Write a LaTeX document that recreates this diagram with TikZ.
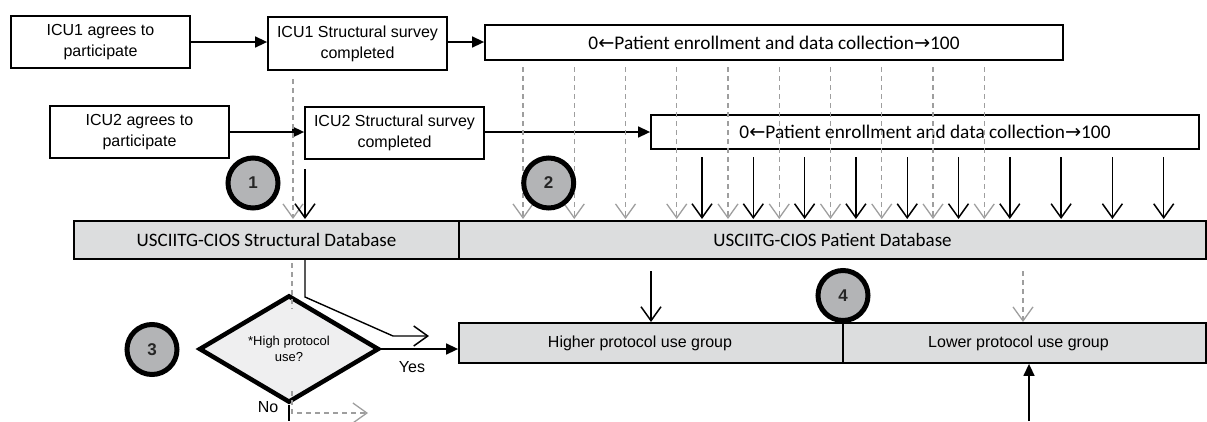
\documentclass[tikz,border=0pt]{standalone}
\usepackage{fontspec}
\setmainfont{Liberation Sans}
\newfontfamily\calfont{Carlito}
\newfontfamily\arrfont{DejaVu Sans}
\usetikzlibrary{arrows.meta,shapes.geometric}
\definecolor{dbfill}{HTML}{DCDDDE}
\definecolor{diafill}{HTML}{EFEFF0}
\definecolor{circfill}{HTML}{B3B4B6}
\definecolor{dashgray}{HTML}{9E9E9E}
\begin{document}
\begin{tikzpicture}[x=1pt,y=-1pt,
  box/.style={draw=black,line width=1.8pt,fill=white,inner sep=0pt,align=center,
    font=\fontsize{16}{23}\selectfont},
  enrbox/.style={draw=black,line width=1.8pt,fill=white,inner sep=0pt,
    font=\calfont\fontsize{19.3}{23}\selectfont},
  dbbox/.style={draw=black,line width=1.8pt,fill=dbfill,inner sep=0pt,
    font=\calfont\fontsize{19}{23}\selectfont},
  grpbox/.style={draw=black,line width=1.8pt,fill=dbfill,inner sep=0pt,
    font=\fontsize{16}{20}\selectfont},
  decision/.style={diamond,draw=black,line width=4.5pt,fill=diafill,inner sep=0pt,
    align=center,font=\fontsize{13}{16}\selectfont},
  numcirc/.style={circle,draw=black,line width=5pt,fill=circfill,inner sep=0pt,
    minimum size=50pt,font=\bfseries\fontsize{17}{17}\selectfont,text=black!85},
  lbl/.style={inner sep=0pt,font=\fontsize{16}{20}\selectfont},
  filledarrow/.style={draw=black,line width=1.5pt,-{Triangle[length=12pt,width=11pt]}},
  openarrow/.style={draw=black,line width=1.4pt,-{Straight Barb[length=14pt,width=20pt,line width=1.5pt]}},
  dasharrow/.style={draw=dashgray,line width=1.2pt,dash pattern=on 5pt off 4pt,
    -{Straight Barb[length=14pt,width=20pt,line width=1.3pt]}},
  dashline/.style={draw=dashgray,line width=1.2pt,dash pattern=on 5pt off 4pt},
  plainline/.style={draw=black,line width=1.5pt}
]
\useasboundingbox (0,0) rectangle (1207,421);

% top boxes
\node[box,minimum width=179pt,minimum height=52pt] (icu1a) at (100.5,42) {\raisebox{-2pt}{\shortstack{ICU1 agrees to\\[3pt]participate}}};
\node[box,minimum width=179pt,minimum height=53pt] (icu1s) at (357.5,43.5) {\raisebox{-2pt}{\shortstack{ICU1 Structural survey\\[3pt]completed}}};
\node[enrbox,minimum width=578pt,minimum height=35pt] (enr1) at (774,42.5)
  {0{\arrfont ←}Patient enrollment and data collection{\arrfont →}100};
\node[box,minimum width=179pt,minimum height=52pt] (icu2a) at (139.5,132) {\raisebox{-2pt}{\shortstack{ICU2 agrees to\\[3pt]participate}}};
\node[box,minimum width=179pt,minimum height=52pt] (icu2s) at (394.5,133) {\raisebox{-2pt}{\shortstack{ICU2 Structural survey\\[3pt]completed}}};
\node[enrbox,minimum width=548pt,minimum height=34pt] (enr2) at (925,132)
  {0{\arrfont ←}Patient enrollment and data collection{\arrfont →}100};

% databases
\node[dbbox,minimum width=385pt,minimum height=38pt] (sdb) at (266.5,240) {USCIITG-CIOS Structural Database};
\node[dbbox,minimum width=747pt,minimum height=38pt] (pdb) at (832.5,240) {USCIITG-CIOS Patient Database};

% groups
\node[grpbox,minimum width=384pt,minimum height=40pt] (hpg) at (651,343) {\hspace*{-22pt}Higher protocol use group};
\node[grpbox,minimum width=363pt,minimum height=40pt] (lpg) at (1024.5,343) {\hspace*{-12pt}Lower protocol use group};

% decision
\node[decision,minimum width=180pt,minimum height=73pt] (dia) at (289,349) {*High protocol\\use?};

% horizontal arrows
\draw[filledarrow] (icu1a.east) -- (icu1a.east -| icu1s.west);
\draw[filledarrow] (icu1s.east |- icu1a.east) -- (icu1a.east -| enr1.west);
\draw[filledarrow] (icu2a.east) -- (icu2a.east -| icu2s.west);
\draw[filledarrow] (icu2s.east |- icu2a.east) -- (icu2a.east -| enr2.west);

% dashed arrows from ICU1 survey and enrollment 1
\coordinate (d0) at (293,79);
\draw[dasharrow] (d0) -- (d0 |- 0,219);
\foreach \i in {0,...,9}{
  \coordinate (dd) at (523+51.25*\i,67);
  \draw[dasharrow] (dd) -- (dd |- 0,219);
}
% solid arrows from ICU2 survey and enrollment 2
\coordinate (s0) at (305,169);
\draw[openarrow] (s0) -- (s0 |- 0,219);
\foreach \i in {0,...,9}{
  \coordinate (ss) at (702+51.3*\i,157);
  \draw[openarrow] (ss) -- (ss |- 0,219);
}

% from structural database to decision
\draw[dashline] (292,263) -- (292,309);
\coordinate (bend1) at (305,297);
\coordinate (bend2) at (393,336);
\coordinate (hend) at (429,336);
\draw[openarrow] (sdb.south -| bend1) -- (bend1) -- (bend2) -- (hend);

% yes / no
\draw[filledarrow] (dia.east) -- (dia.east -| hpg.west);
\node[lbl] (yes) at (412,367) {Yes};
\node[lbl] (no) at (268,407) {No};
\coordinate (nobot) at (287,421);
\draw[plainline] (dia.south) -- (dia.south |- nobot);
\coordinate (ndash) at (292,391);
\coordinate (nend) at (368,413);
\draw[dasharrow] (ndash) -- (ndash |- nend) -- (nend);

% arrows into groups
\coordinate (hin) at (651,271);
\draw[openarrow] (hin) -- (hin |- 0,322);
\coordinate (lin) at (1023,271);
\draw[dasharrow] (lin) -- (lin |- 0,322);
\coordinate (lup) at (1029,421);
\draw[filledarrow] (lup) -- (lup |- lpg.south);

% numbered circles
\node[numcirc] (c1) at (253,183) {1};
\node[numcirc] (c2) at (548.7,183) {2};
\node[numcirc] (c3) at (152,349.5) {3};
\node[numcirc] (c4) at (843,295.5) {4};
\end{tikzpicture}
\end{document}
